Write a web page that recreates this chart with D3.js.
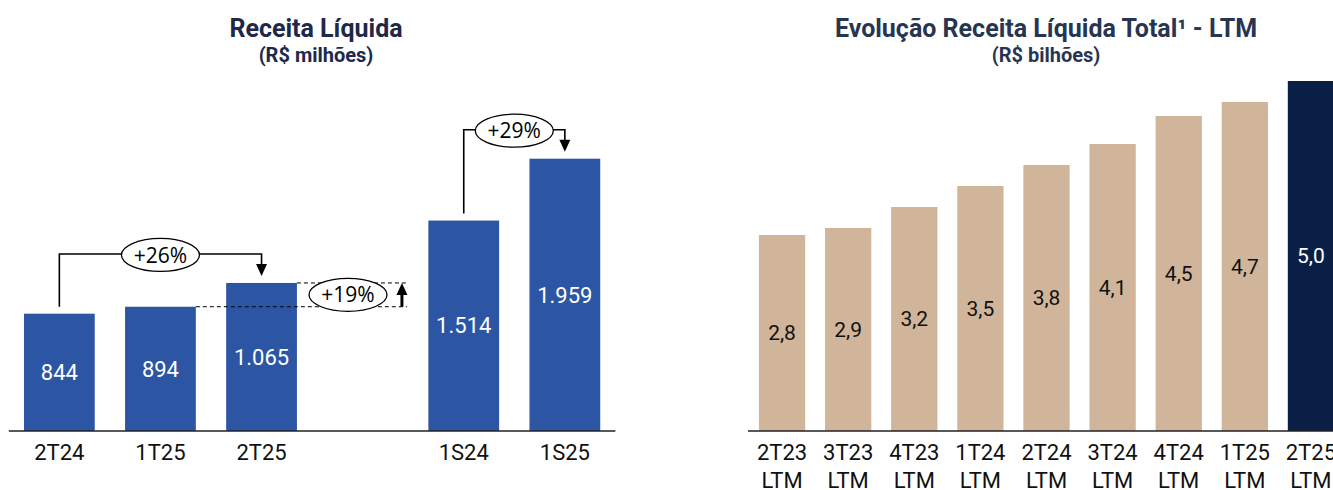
<!DOCTYPE html>
<html>
<head>
<meta charset="utf-8">
<script src="https://cdn.jsdelivr.net/npm/d3@7"></script>
<style>
  html, body { margin: 0; padding: 0; background: #fff; }
  svg { display: block; }
</style>
</head>
<body>
<svg id="chart" width="1333" height="490"></svg>
<script>
// Quarterly / semester net revenue (R$ millions)
const qCategories = ["2T24", "1T25", "2T25", "", "1S24", "1S25"];
const qValues = [844, 894, 1065, null, 1514, 1959];
const qLabels = ["844", "894", "1.065", "", "1.514", "1.959"];

// LTM net revenue (R$ billions)
const ltmCategories = ["2T23", "3T23", "4T23", "1T24", "2T24", "3T24", "4T24", "1T25", "2T25"];
const ltmValues = [2.8, 2.9, 3.2, 3.5, 3.8, 4.1, 4.5, 4.7, 5.0];

// Growth annotations: [from, to, text]
const growthBrackets = [["2T24", "2T25", "+26%"], ["1S24", "1S25", "+29%"]];
const growthStep = ["1T25", "2T25", "+19%"];

const blue = "#2c56a4";
const tan = "#d0b59b";
const navy = "#0a1f45";
const font = "Roboto, 'Noto Sans', sans-serif";
const noteFont = "'Open Sans', 'Noto Sans', sans-serif";

const svg = d3.select("#chart");
const baseY = 431;

// ---------- Left chart ----------
const xL = d3.scaleBand().domain(qCategories).range([8.8, 615.4])
  .paddingInner(0.3).paddingOuter(0.15);
const yL = d3.scaleLinear().domain([0, 2000]).range([baseY, 153]);

const left = svg.append("g");

left.append("text").attr("x", 316).attr("y", 37).attr("text-anchor", "middle")
  .attr("font-family", font).attr("font-weight", 700).attr("font-size", 25)
  .attr("fill", "#20284a").text("Receita Líquida");
left.append("text").attr("x", 316).attr("y", 62).attr("text-anchor", "middle")
  .attr("font-family", font).attr("font-weight", 700).attr("font-size", 20)
  .attr("fill", "#20284a").text("(R$ milhões)");

const qData = qCategories.map((c, i) => ({ c, v: qValues[i], label: qLabels[i] }))
  .filter(d => d.v !== null);

left.selectAll("rect.bar").data(qData).enter().append("rect")
  .attr("x", d => xL(d.c)).attr("width", xL.bandwidth())
  .attr("y", d => yL(d.v)).attr("height", d => baseY - yL(d.v))
  .attr("fill", blue);

left.selectAll("text.val").data(qData).enter().append("text")
  .attr("x", d => xL(d.c) + xL.bandwidth() / 2)
  .attr("y", d => (yL(d.v) + baseY) / 2)
  .attr("dy", "0.35em").attr("text-anchor", "middle")
  .attr("font-family", font).attr("font-size", 22).attr("fill", "#fff")
  .text(d => d.label);

left.append("line").attr("x1", 8.8).attr("x2", 615.4).attr("y1", baseY).attr("y2", baseY)
  .attr("stroke", "#222").attr("stroke-width", 1.5);

left.selectAll("text.cat").data(qData).enter().append("text")
  .attr("x", d => xL(d.c) + xL.bandwidth() / 2).attr("y", 460)
  .attr("text-anchor", "middle").attr("font-family", font).attr("font-size", 22)
  .attr("fill", "#111").text(d => d.c);

// dashed reference lines for the quarter-on-quarter step
const iFrom = qCategories.indexOf(growthStep[0]);
const iTo = qCategories.indexOf(growthStep[1]);
const stepX = xL(growthStep[1]) + xL.bandwidth() + 110;
const yFrom = yL(qValues[iFrom]);
const yTo = yL(qValues[iTo]);
left.append("line").attr("x1", xL(growthStep[0]) + xL.bandwidth()).attr("x2", stepX)
  .attr("y1", yFrom).attr("y2", yFrom)
  .attr("stroke", "#000").attr("stroke-width", 1).attr("stroke-dasharray", "4,3");
left.append("line").attr("x1", xL(growthStep[1]) + xL.bandwidth()).attr("x2", stepX)
  .attr("y1", yTo).attr("y2", yTo)
  .attr("stroke", "#000").attr("stroke-width", 1).attr("stroke-dasharray", "4,3");

// arrowhead helper
function arrowHead(g, x, y, dir) {
  const w = 5.5, h = 12;
  const pts = dir === "down"
    ? [[x - w, y - h], [x + w, y - h], [x, y]]
    : [[x - w, y + h], [x + w, y + h], [x, y]];
  g.append("path").attr("d", d3.line()(pts) + "Z").attr("fill", "#000");
}

function note(g, cx, cy, text) {
  g.append("ellipse").attr("cx", cx).attr("cy", cy).attr("rx", 39).attr("ry", 16.5)
    .attr("fill", "#fff").attr("stroke", "#000").attr("stroke-width", 1.3);
  g.append("text").attr("x", cx).attr("y", cy).attr("dy", "0.36em")
    .attr("text-anchor", "middle").attr("font-family", noteFont).attr("font-size", 21)
    .attr("fill", "#000").text(text);
}

// bracket arrows between periods
growthBrackets.forEach(([a, b, txt]) => {
  const ia = qCategories.indexOf(a), ib = qCategories.indexOf(b);
  const xa = xL(a) + xL.bandwidth() / 2, xb = xL(b) + xL.bandwidth() / 2;
  const ya = yL(qValues[ia]), yb = yL(qValues[ib]);
  const yTop = yb - 29;
  const tipY = yb - 7;
  left.append("path")
    .attr("d", d3.line()([[xa, ya - 7], [xa, yTop], [xb, yTop], [xb, tipY - 10]]))
    .attr("fill", "none").attr("stroke", "#000").attr("stroke-width", 1.6);
  arrowHead(left, xb, tipY, "down");
  note(left, (xa + xb) / 2, yTop + 1, txt);
});

// step arrow for quarter-on-quarter growth
left.append("line").attr("x1", stepX - 5).attr("x2", stepX - 5)
  .attr("y1", yFrom).attr("y2", yTo + 10)
  .attr("stroke", "#000").attr("stroke-width", 3);
arrowHead(left, stepX - 5, yTo, "up");
note(left, 348, (yFrom + yTo) / 2, growthStep[2]);

// ---------- Right chart ----------
const xR = d3.scaleBand().domain(ltmCategories).range([749, 1344])
  .paddingInner(0.3).paddingOuter(0.15);
const yR = d3.scaleLinear().domain([0, 5]).range([baseY, 81]);

const right = svg.append("g");

right.append("text").attr("x", 1046).attr("y", 37).attr("text-anchor", "middle")
  .attr("font-family", font).attr("font-weight", 700).attr("font-size", 25)
  .attr("fill", "#283552").text("Evolução Receita Líquida Total¹ - LTM");
right.append("text").attr("x", 1046).attr("y", 62).attr("text-anchor", "middle")
  .attr("font-family", font).attr("font-weight", 700).attr("font-size", 20)
  .attr("fill", "#283552").text("(R$ bilhões)");

const ltmData = ltmCategories.map((c, i) => ({ c, v: ltmValues[i], last: i === ltmCategories.length - 1 }));

right.selectAll("rect").data(ltmData).enter().append("rect")
  .attr("x", d => xR(d.c)).attr("width", xR.bandwidth())
  .attr("y", d => yR(d.v)).attr("height", d => baseY - yR(d.v))
  .attr("fill", d => d.last ? navy : tan);

right.selectAll("text.val").data(ltmData).enter().append("text")
  .attr("x", d => xR(d.c) + xR.bandwidth() / 2)
  .attr("y", d => (yR(d.v) + baseY) / 2)
  .attr("dy", "0.35em").attr("text-anchor", "middle")
  .attr("font-family", font).attr("font-size", 21)
  .attr("fill", d => d.last ? "#fff" : "#111")
  .text(d => d3.format(".1f")(d.v).replace(".", ","));

right.append("line").attr("x1", 748).attr("x2", 1344).attr("y1", baseY).attr("y2", baseY)
  .attr("stroke", "#222").attr("stroke-width", 1.5);

const catR = right.selectAll("text.cat").data(ltmData).enter().append("text")
  .attr("text-anchor", "middle").attr("font-family", font).attr("font-size", 22)
  .attr("fill", "#111");
catR.append("tspan").attr("x", d => xR(d.c) + xR.bandwidth() / 2).attr("y", 460).text(d => d.c);
catR.append("tspan").attr("x", d => xR(d.c) + xR.bandwidth() / 2).attr("y", 488).text("LTM");
</script>
</body>
</html>
